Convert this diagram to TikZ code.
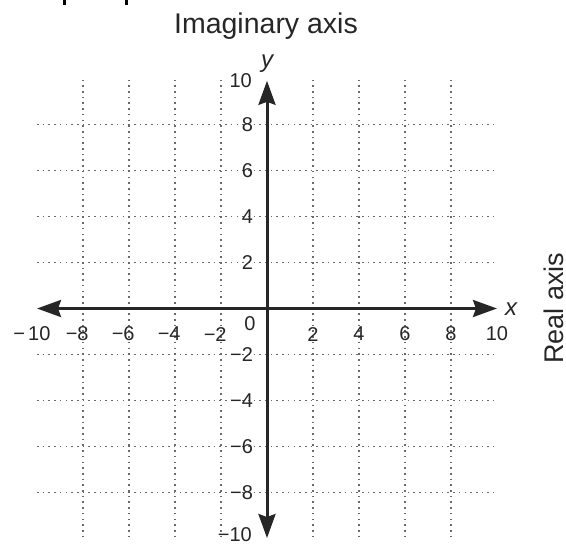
\documentclass[tikz,border=0pt]{standalone}
\usepackage{fontspec}
\setmainfont{Liberation Sans}
\usetikzlibrary{arrows.meta}
\definecolor{ink}{HTML}{262626}
\definecolor{gridc}{HTML}{6A6A6A}
\tikzset{
  gridline/.style={gridc, line width=1.6pt, dash pattern=on 1.6pt off 4.1pt},
  axisline/.style={ink, line width=3pt, {Stealth[length=24pt,width=17pt,inset=3pt]}-{Stealth[length=24pt,width=17pt,inset=3pt]}},
  ticklab/.style={ink, inner sep=0pt, font=\fontsize{20}{20}\selectfont},
  axlab/.style={ink, inner sep=0pt, font=\fontsize{24}{24}\selectfont\itshape},
  title/.style={ink, inner sep=0pt, font=\fontsize{28.5}{28.5}\selectfont},
}
\begin{document}
\begin{tikzpicture}[x=1pt,y=-1pt]
\useasboundingbox (0,0) rectangle (566,544);
% cut-off fragments at the top edge
\fill[black] (63,0) rectangle (65.5,4.5);
\fill[black] (125,0) rectangle (127.5,4.5);
\begin{scope}[shift={(267,308.5)}, x=23pt, y=23pt]
  % grid
  \foreach \k in {-8,-6,-4,-2,2,4,6,8} {
    \draw[gridline] (-10,\k) -- (9.85,\k);
    \draw[gridline] (\k,9.95) -- (\k,-10);
  }
  % axes
  \coordinate (xl) at (-10,0);
  \coordinate (xr) at (10,0);
  \coordinate (yt) at (0,9.9);
  \coordinate (yb) at (0,-9.98);
  \draw[axisline] (xl) -- (xr);
  \draw[axisline] (yb) -- (yt);
  % x tick labels
  \foreach \k in {2,4,6,8,10} {
    \node[ticklab] (xp\k) at (\k,-1.11) {\k};
  }
  \foreach \k in {2,4,6,8} {
    \node[ticklab] (xn\k) at (-\k,-1.11) {\llap{−}\k};
  }
  \node[ticklab] (xn10) at (-9.9,-1.11) {\llap{−\kern3pt}10};
  % y tick labels
  \foreach \k in {2,4,6,8} {
    \node[ticklab, anchor=east] (yp\k) at (-0.6,\k) {\k};
    \node[ticklab, anchor=east] (yn\k) at (-0.6,-\k) {−\k};
  }
  \node[ticklab, anchor=east] (yp10) at (-0.65,9.9) {10};
  \node[ticklab, anchor=east] (yn10) at (-0.65,-9.85) {−10};
  \node[ticklab] (zero) at (-0.74,-0.65) {0};
\end{scope}
% axis letters and titles
\node[axlab, anchor=base] (ylab) at (267,67) {y};
\node[axlab, anchor=base] (xlab) at (511,315) {x};
\node[title, anchor=base] (imag) at (266,33) {Imaginary axis};
\node[title, anchor=base, rotate=90, font=\fontsize{27}{27}\selectfont] (real) at (563,308) {Real axis};
\end{tikzpicture}
\end{document}
